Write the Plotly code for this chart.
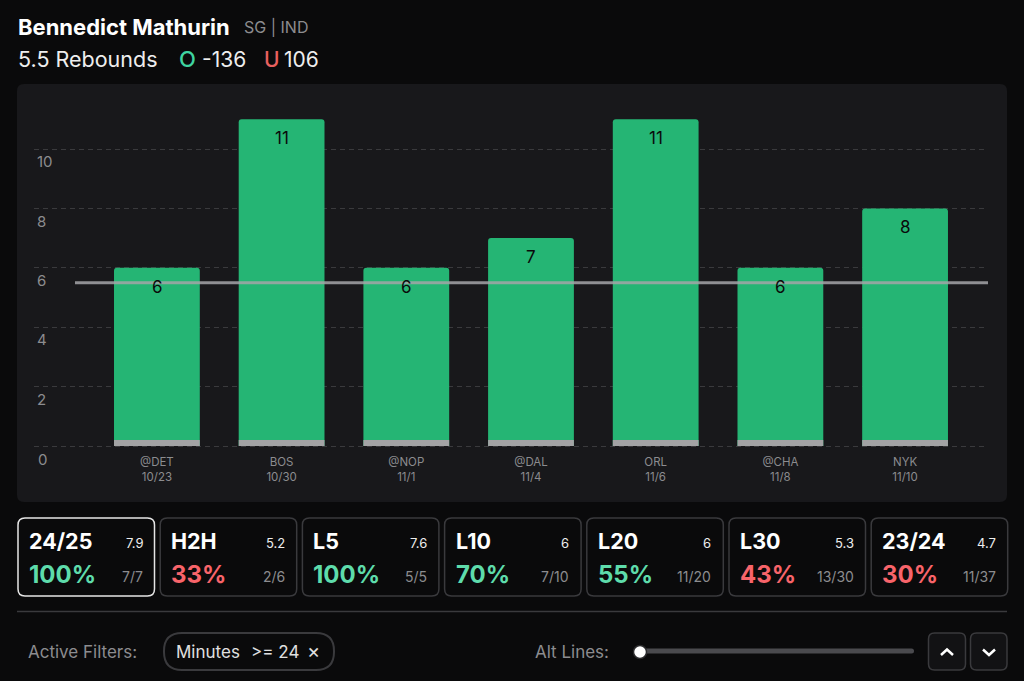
import plotly.graph_objects as go

# chart values
games = ['@DET', 'BOS', '@NOP', '@DAL', 'ORL', '@CHA', 'NYK']
dates = ['10/23', '10/30', '11/1', '11/4', '11/6', '11/8', '11/10']
rebounds = [6, 11, 6, 7, 11, 6, 8]
minutes_strip = [0.2, 0.2, 0.2, 0.2, 0.2, 0.2, 0.2]
y_ticks = [0, 2, 4, 6, 8, 10]
prop_line = 5.5

# cards under the chart
card_names = ['24/25', 'H2H', 'L5', 'L10', 'L20', 'L30', '23/24']
card_avgs = ['7.9', '5.2', '7.6', '6', '6', '5.3', '4.7']
card_pcts = [100, 33, 100, 70, 55, 43, 30]
card_counts = ['7/7', '2/6', '5/5', '7/10', '11/20', '13/30', '11/37']

W, H = 1024, 681
FONT = 'Inter'
BG = '#0a0a0b'
PANEL = '#18181b'
BORDER = '#3a3a3d'
GREEN = '#25b574'
TEAL = '#5edcab'
RED = '#f8646a'
GREY = '#8c8c8f'


def px(x):
    return x / W


def py(y):
    return 1 - y / H


def round_box(x0, y0, x1, y1, r, fill, line, width=1.5):
    # plotly rects have no radius, so build the path by hand
    d = (f'M {px(x0 + r)} {py(y0)} L {px(x1 - r)} {py(y0)} '
         f'Q {px(x1)} {py(y0)} {px(x1)} {py(y0 + r)} L {px(x1)} {py(y1 - r)} '
         f'Q {px(x1)} {py(y1)} {px(x1 - r)} {py(y1)} L {px(x0 + r)} {py(y1)} '
         f'Q {px(x0)} {py(y1)} {px(x0)} {py(y1 - r)} L {px(x0)} {py(y0 + r)} '
         f'Q {px(x0)} {py(y0)} {px(x0 + r)} {py(y0)} Z')
    return dict(type='path', path=d, xref='paper', yref='paper', fillcolor=fill,
                line=dict(color=line, width=width), layer='below')


def polyline(points, color, width):
    d = 'M ' + ' L '.join(f'{px(x)} {py(y)}' for x, y in points)
    return dict(type='path', path=d, xref='paper', yref='paper',
                line=dict(color=color, width=width), layer='above')


def label(x, y, text, size, color, anchor='left', weight=400):
    # annotations sit about 1px right of the given x when left anchored
    if anchor == 'left':
        x = x - 1
    return dict(x=px(x), y=py(y), xref='paper', yref='paper', text=text, showarrow=False,
                xanchor=anchor, yanchor='middle', borderpad=0,
                font=dict(family=FONT, size=size, color=color, weight=weight))


fig = go.Figure()
x_pos = list(range(len(games)))
fig.add_trace(go.Bar(x=x_pos, y=rebounds, width=0.688,
                     marker=dict(color=GREEN, cornerradius=3, line=dict(width=0)),
                     hoverinfo='skip'))
fig.add_trace(go.Bar(x=x_pos, y=minutes_strip, width=0.688,
                     marker=dict(color='#a3a3a5', cornerradius=0, line=dict(width=0)),
                     hoverinfo='skip'))

shapes = [round_box(17, 84, 1007, 502, 7, PANEL, PANEL, 0)]
# prop line across the bars
shapes.append(dict(type='line', xref='x', yref='y', x0=-0.657, x1=6.665, y0=prop_line, y1=prop_line,
                   line=dict(color='rgba(165,165,168,0.85)', width=3), layer='above'))

annotations = []
for i, v in enumerate(rebounds):
    annotations.append(dict(x=i, y=v, xref='x', yref='y', text=str(v), showarrow=False, yshift=-19,
                            xshift=0.5, font=dict(family=FONT, size=17, color='#0a0a0b')))

# the axis drops its 0 label once it is shifted out of the plot area
annotations.append(dict(x=px(37), y=y_ticks[0], xref='paper', yref='y', text=str(y_ticks[0]),
                        showarrow=False, xanchor='left', yanchor='middle', yshift=-13, borderpad=0,
                        font=dict(family=FONT, size=15, color=GREY)))

# header
annotations += [
    label(18, 27, 'Bennedict Mathurin', 22, '#ffffff', weight=700),
    label(244, 27, 'SG | IND', 16, GREY),
    label(18, 59, '5.5 Rebounds', 21.5, '#eeeeee'),
    label(179, 59, 'O', 22, '#3fd3a0', weight=500),
    label(202, 59, '-136', 21, '#eeeeee'),
    label(264, 59, 'U', 21, '#e8605f', weight=500),
    label(284, 59, '106', 21, '#eeeeee'),
]

# stat cards
for i, name in enumerate(card_names):
    x0 = 18 + i * 142.2
    x1 = x0 + 136.5
    selected = i == 0
    shapes.append(round_box(x0, 518, x1, 596, 7, BG, '#e6e6e6' if selected else BORDER, 1.5))
    pct_color = TEAL if card_pcts[i] >= 50 else RED
    annotations += [
        label(x0 + 11, 541, name, 21.5, '#ffffff', weight=700),
        label(x1 - 11, 543, card_avgs[i], 13, '#eeeeee', 'right'),
        label(x0 + 11, 574, f'{card_pcts[i]}%', 24, pct_color, weight=700),
        label(x1 - 11, 576, card_counts[i], 14, GREY, 'right'),
    ]

# divider and filter row
shapes.append(polyline([(17, 611.5), (1007, 611.5)], BORDER, 1.5))
shapes.append(round_box(164, 633, 334, 670, 18, BG, BORDER, 2))
annotations += [
    label(28, 652, 'Active Filters:', 17, GREY),
    label(176, 652, 'Minutes', 17, '#e0e0e0'),
    label(251, 652, '>= 24', 17, '#e0e0e0'),
    label(307, 651, '×', 20, '#e0e0e0'),
    label(535, 652, 'Alt Lines:', 17, GREY),
]

# slider and arrow buttons
shapes.append(round_box(640, 648.5, 914, 653.5, 2.5, '#4a4a4e', '#4a4a4e', 0))
shapes.append(dict(type='circle', xref='paper', yref='paper', x0=px(633.5), x1=px(646.5),
                   y0=py(658.5), y1=py(645.5), fillcolor='#ffffff',
                   line=dict(color='#2a2a2c', width=1.5), layer='above'))
shapes.append(round_box(928.5, 633, 965.5, 670, 6, '#121214', BORDER, 1.5))
shapes.append(round_box(970.5, 633, 1007, 670, 6, '#121214', BORDER, 1.5))
shapes.append(polyline([(941, 655), (947, 649.5), (953, 655)], '#ffffff', 2.5))
shapes.append(polyline([(983, 649.5), (989, 655), (995, 649.5)], '#ffffff', 2.5))

fig.update_layout(
    width=W, height=H,
    margin=dict(l=0, r=0, t=0, b=0),
    paper_bgcolor=BG,
    plot_bgcolor='rgba(0,0,0,0)',
    barmode='overlay',
    showlegend=False,
    shapes=shapes,
    annotations=annotations,
    xaxis=dict(domain=[px(34), px(988)], range=[-0.9856, 6.665], tickmode='array',
               tickvals=x_pos, ticktext=[f'{g}<br>{d}' for g, d in zip(games, dates)],
               showgrid=False, zeroline=False, showline=False,
               ticks='outside', ticklen=2, tickcolor='rgba(0,0,0,0)',
               tickfont=dict(family=FONT, size=11.5, color=GREY)),
    # range starts just under 0 so the 0 gridline still draws
    yaxis=dict(domain=[py(449), py(100)], range=[-0.101, 11.65], tickmode='array', tickvals=y_ticks,
               showgrid=True, gridcolor=BORDER, griddash='5px,4px', gridwidth=1,
               zeroline=False, showline=False,
               ticklabelposition='inside', ticklabelshift=13,
               tickfont=dict(family=FONT, size=15, color=GREY)),
)

fig.write_html('out.html', config=dict(displayModeBar=False),
               post_script="document.body.style.margin='0';document.body.style.overflow='hidden';")
